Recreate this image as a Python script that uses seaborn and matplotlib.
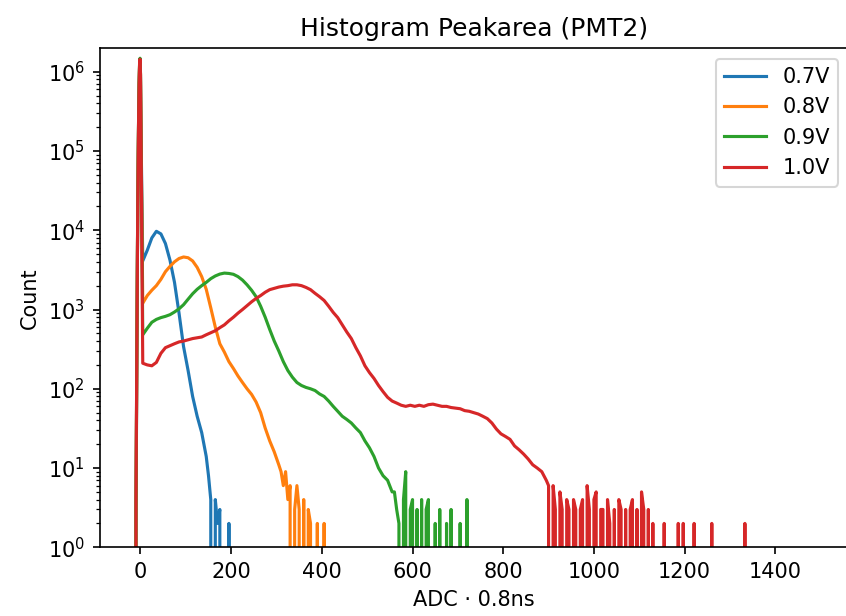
import numpy as np
import pandas as pd
import matplotlib
matplotlib.use("Agg")
import matplotlib.pyplot as plt
import seaborn as sns

# ---------------- data ----------------
labels = ["0.7V", "0.8V", "0.9V", "1.0V"]
colors = ["#1f77b4", "#ff7f0e", "#2ca02c", "#d62728"]

# pedestal region, 1-ADC bins (bin centres)
ped_x = [-11, -10, -9, -8, -7, -6, -5, -4, -3, -2, -1, 0, 1]
ped_07 = [0, 1.5, 20, 300, 3000, 20000, 90000, 300000, 700000, 1200000, 1400000, 900000, 200000]
ped_08 = [0, 2, 25, 320, 3200, 21000, 95000, 310000, 720000, 1250000, 1450000, 950000, 210000]
ped_09 = [0, 3, 30, 340, 3300, 22000, 97000, 320000, 740000, 1280000, 1480000, 960000, 215000]
ped_10 = [0, 4, 30, 330, 3200, 21000, 94000, 310000, 720000, 1250000, 1440000, 930000, 205000]

# signal region, sampled every 10 ADC starting at 5
main_start = 5
main_step = 10
main_07 = [4100, 5600, 8000, 9700, 9000, 6800, 4200, 2200, 900, 340,
           170, 80, 45, 28, 14]
main_08 = [1200, 1500, 1750, 2000, 2400, 3000, 3500, 4000, 4400, 4600,
           4500, 4100, 3400, 2600, 1800, 1050, 600, 370, 290, 220,
           180, 145, 120, 100, 85, 68, 50, 32, 22, 16,
           11]
main_09 = [480, 580, 690, 750, 790, 820, 860, 930, 1020, 1150,
           1350, 1580, 1800, 2000, 2200, 2450, 2650, 2800, 2880, 2850,
           2780, 2600, 2350, 2050, 1750, 1450, 1100, 800, 560, 400,
           300, 220, 170, 140, 120, 110, 104, 100, 95, 86,
           80, 70, 60, 52, 45, 41, 37, 32, 28, 22,
           18, 14, 10, 8, 7, 5]
main_10 = [210, 200, 195, 215, 280, 330, 350, 370, 390, 400,
           415, 430, 440, 450, 480, 510, 540, 590, 640, 720,
           800, 900, 1000, 1120, 1250, 1380, 1500, 1650, 1780, 1850,
           1920, 1970, 2000, 2050, 2050, 2000, 1900, 1780, 1600, 1450,
           1300, 1100, 920, 790, 640, 520, 430, 330, 260, 195,
           160, 135, 110, 92, 78, 70, 66, 62, 60, 62,
           60, 62, 60, 63, 64, 62, 60, 60, 58, 57,
           56, 53, 52, 50, 48, 45, 42, 37, 31, 27,
           25, 23, 19, 17, 15, 13, 11, 10, 9, 7]

# noisy low-count tails, sampled every 5 ADC
tail_step = 5
tail_start_07 = 150
tail_07 = [8, 4, 0, 4, 2, 3, 0, 0, 0, 2, 0]
tail_start_08 = 310
tail_08 = [9, 6, 9, 4, 6, 0, 3, 6, 3, 0, 4, 0, 3, 2, 0, 0, 2, 0, 0, 2, 0]
tail_start_09 = 560
tail_09 = [5, 3, 2, 0, 4, 9, 0, 3, 4, 0, 3, 0, 4, 0, 3, 4, 0, 0, 2, 0,
           3, 0, 0, 2, 0, 3, 0, 0, 0, 2, 0, 0, 4, 0]
tail_start_10 = 900
tail_10 = [6, 0, 6, 3, 0, 5, 3, 0, 4, 3, 0, 4, 3, 0, 3, 4, 0, 6, 3, 0,
           4, 5, 0, 3, 3, 0, 4, 2, 0, 3, 0, 4, 3, 0, 3, 0, 3, 4, 0, 3,
           0, 5, 3, 0, 3, 0, 2, 0]

# isolated single entries far out in the 1.0V tail
sparse_x_10 = [1155, 1165, 1186, 1191, 1197, 1210, 1221, 1240, 1260, 1300, 1333, 1345]
sparse_10 = [2, 0, 2, 0, 2, 0, 2, 0, 2, 0, 2, 0]

series = [
    (ped_07, main_07, tail_start_07, tail_07, [], []),
    (ped_08, main_08, tail_start_08, tail_08, [], []),
    (ped_09, main_09, tail_start_09, tail_09, [], []),
    (ped_10, main_10, tail_start_10, tail_10, sparse_x_10, sparse_10),
]

rows = []
for lab, (ped, main, t0, tail, sx, sc) in zip(labels, series):
    xs = (list(ped_x)
          + list(main_start + main_step * np.arange(len(main)))
          + list(t0 + tail_step * np.arange(len(tail)))
          + list(sx))
    cs = list(ped) + list(main) + list(tail) + list(sc)
    for x, c in zip(xs, cs):
        rows.append({"ADC": x, "Count": c, "Voltage": lab})
df = pd.DataFrame(rows)

# ---------------- figure ----------------
W, H, DPI = 846, 616, 150
fig = plt.figure(figsize=(W / DPI, H / DPI), dpi=DPI)
ax = fig.add_axes([99.5 / W, (H - 547.3) / H, 749.0 / W, (547.3 - 48.2) / H])

sns.lineplot(data=df, x="ADC", y="Count", hue="Voltage", palette=colors,
             hue_order=labels, linewidth=1.5,
             estimator=None, ax=ax, legend=False)

ax.set_yscale("log")
ax.set_ylim(1, 1.98e6)
ax.set_xlim(-90.4, 1561.5)
ax.set_xticks(np.arange(0, 1401, 200))

leg = ax.legend(ax.lines[:4], labels, loc="upper right", fontsize=10)
for h in leg.legend_handles:
    h.set_linewidth(1.5)
ax.set_title("Histogram Peakarea (PMT2)", fontsize=12)
ax.set_xlabel("ADC \u00b7 0.8ns", fontsize=10)
ax.set_ylabel("Count", fontsize=10)
ax.tick_params(labelsize=10)

fig.savefig("out.png", dpi=DPI)
